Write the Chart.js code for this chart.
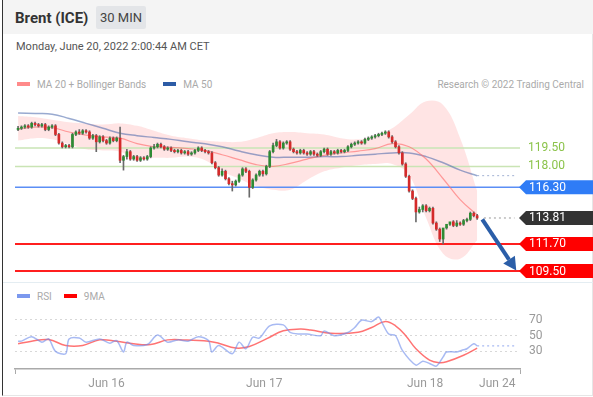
<!DOCTYPE html>
<html lang="en">
<head>
  <meta charset="UTF-8">
  <title>Brent (ICE) 30 MIN</title>
  <script src="https://cdn.jsdelivr.net/npm/chart.js"></script>
  <style>
    body { margin: 0; width: 593px; height: 397px; overflow: hidden; background: #fff; font-family: Roboto, "Liberation Sans", sans-serif; }
    #card { position: absolute; left: 2px; top: 0; width: 589px; height: 395px; border-left: 1px solid #333; border-right: 1px solid #e6e6e6; border-bottom: 1px solid #e6e6e6; }
    #topbar { position: absolute; left: 3px; top: 0; width: 590px; height: 34px; background: #f4f4f4; }
    .abs { position: absolute; white-space: nowrap; }
    .title { left: 15px; top: 9px; font-size: 15px; font-weight: bold; color: #333; }
    .tf { left: 96px; top: 6px; width: 50px; height: 23px; line-height: 23px; text-align: center; background: #e3e5e8; color: #444; font-size: 13px; border-radius: 2px; }
    .date { left: 16px; top: 40px; font-size: 11px; color: #555; }
    .leg { font-size: 10px; color: #aaa; line-height: 12px; }
    .sw { display: inline-block; width: 13px; height: 4px; vertical-align: middle; margin-right: 7px; position: relative; top: -1px; }
    #sep { position: absolute; left: 3px; top: 282px; width: 590px; height: 1px; background: #e4edf2; }
    canvas { position: absolute; left: 0; }
  </style>
</head>
<body>
  <div id="card"></div>
  <div id="topbar"></div>
  <div class="abs title">Brent (ICE)</div>
  <div class="abs tf">30 MIN</div>
  <div class="abs date">Monday, June 20, 2022 2:00:44 AM CET</div>
  <div class="abs leg" style="left:17px;top:79px"><span class="sw" style="background:#ff8a8a"></span>MA 20 + Bollinger Bands<span class="sw" style="background:#2d5ca6;margin-left:17px"></span>MA 50</div>
  <div class="abs leg" style="right:9px;top:79px">Research © 2022 Trading Central</div>
  <div id="sep"></div>
  <div class="abs leg" style="left:17px;top:291px"><span class="sw" style="background:#7b98ee"></span>RSI<span class="sw" style="background:#ff0000;margin-left:12px"></span>9MA</div>

  <canvas id="priceChart" width="593" height="190" style="top:95px"></canvas>
  <canvas id="rsiChart" width="593" height="107" style="top:290px"></canvas>

  <script>
    // 30 min candles, index 0 = first bar on the left
    const opens = [121.0,121.1,121.2,121.3,121.2,121.5,121.4,121.3,121.4,121.0,
      121.2,121.3,120.6,119.9,119.6,119.7,119.6,120.6,120.8,120.7,
      120.9,120.8,120.3,120.5,120.0,120.4,120.1,119.9,120.3,120.1,
      120.3,118.5,118.8,119.2,118.6,118.8,118.5,118.7,118.6,118.8,
      119.5,119.6,119.8,119.6,119.4,119.5,119.3,119.2,119.3,119.1,
      119.2,119.0,119.1,119.3,119.5,119.3,119.2,119.1,118.3,117.9,
      117.3,117.6,117.0,116.6,116.5,116.8,117.3,117.8,117.6,116.3,
      116.9,117.3,117.6,117.4,118.0,119.2,119.7,120.0,119.5,119.9,
      120.0,119.4,119.2,119.1,119.3,119.1,119.0,119.2,119.0,118.9,
      119.2,119.4,119.0,119.2,119.1,119.3,119.2,119.3,119.6,119.8,
      119.9,120.0,119.9,120.2,120.3,120.4,120.5,120.6,120.7,120.8,
      120.4,120.0,119.6,119.1,118.2,117.2,116.0,115.4,114.3,114.5,
      114.8,114.4,114.6,113.4,112.9,112.1,113.0,113.3,113.5,113.2,
      113.4,113.3,113.6,113.7,114.2,114.0];
    const closes = [121.1,121.2,121.3,121.2,121.5,121.4,121.3,121.4,121.0,121.2,
      121.3,120.6,119.9,119.6,119.7,119.6,120.6,120.8,120.7,120.9,
      120.8,120.3,120.5,120.0,120.4,120.1,119.9,120.3,120.1,120.3,
      118.5,118.8,119.2,118.6,118.8,118.5,118.7,118.6,118.8,119.5,
      119.6,119.8,119.6,119.4,119.5,119.3,119.2,119.3,119.1,119.2,
      119.0,119.1,119.3,119.5,119.3,119.2,119.1,118.3,117.9,117.3,
      117.6,117.0,116.6,116.5,116.8,117.3,117.8,117.6,116.3,116.9,
      117.3,117.6,117.4,118.0,119.2,119.7,120.0,119.5,119.9,120.0,
      119.4,119.2,119.1,119.3,119.1,119.0,119.2,119.0,118.9,119.2,
      119.4,119.0,119.2,119.1,119.3,119.2,119.3,119.6,119.8,119.9,
      120.0,119.9,120.2,120.3,120.4,120.5,120.6,120.7,120.8,120.4,
      120.0,119.6,119.1,118.2,117.2,116.0,115.4,114.3,114.5,114.8,
      114.4,114.6,113.4,112.9,112.1,113.0,113.3,113.5,113.2,113.4,
      113.3,113.6,113.7,114.2,114.0,113.81];
    const highs = [121.25,121.3,121.4,121.4,121.6,121.6,121.5,121.5,121.5,121.3,
      121.4,121.4,120.7,120.0,119.8,119.8,120.7,120.9,121.0,121.0,
      121.0,120.9,120.6,120.6,120.5,120.5,120.2,120.4,120.4,120.4,
      121.2,118.9,119.4,119.3,118.9,118.9,118.8,118.8,118.9,119.6,
      119.8,119.9,119.9,119.7,119.6,119.6,119.4,119.4,119.4,119.3,
      119.3,119.2,119.4,119.6,119.6,119.4,119.3,119.2,118.4,118.0,
      117.8,117.7,117.1,116.8,116.9,117.4,117.9,117.9,117.7,117.0,
      117.4,117.7,117.7,118.1,119.3,119.9,120.2,120.1,120.0,120.1,
      120.1,119.5,119.3,119.4,119.4,119.2,119.3,119.3,119.1,119.3,
      119.5,119.5,119.3,119.3,119.4,119.4,119.4,119.7,119.9,120.0,
      120.1,120.1,120.3,120.4,120.5,120.6,120.7,120.8,120.9,120.9,
      120.5,120.1,119.7,119.2,118.3,117.3,116.1,115.5,114.7,114.9,
      114.9,114.7,114.7,113.5,113.0,112.3,113.1,113.4,113.6,113.6,
      113.5,113.7,113.8,114.3,114.3,114.1];
    const lows = [120.9,121.0,121.1,121.1,121.1,121.3,121.2,121.2,120.9,120.9,
      121.1,120.5,119.8,119.5,119.5,119.5,119.5,120.5,120.6,120.6,
      120.7,120.2,120.2,119.2,119.9,120.0,119.8,119.8,120.0,120.0,
      118.3,117.7,118.6,118.5,118.5,118.4,118.4,118.5,118.5,118.7,
      119.4,119.5,119.5,119.3,119.3,119.2,119.1,119.1,119.0,119.0,
      118.9,118.9,119.0,119.2,119.2,119.1,119.0,118.2,117.8,117.2,
      117.2,116.9,116.5,116.0,116.4,116.7,117.2,117.5,115.5,116.2,
      116.8,117.2,117.2,117.3,117.9,119.1,119.6,119.4,119.4,119.8,
      119.3,119.1,119.0,119.0,119.0,118.9,118.9,118.9,118.8,118.8,
      119.1,118.9,118.9,119.0,119.0,119.1,119.1,119.2,119.5,119.7,
      119.8,119.8,119.8,120.1,120.2,120.3,120.4,120.5,120.6,120.3,
      119.9,119.5,119.0,118.1,117.1,115.9,115.3,113.5,114.2,114.3,
      114.3,114.3,113.3,112.8,111.9,111.7,112.9,113.2,113.1,113.1,
      113.2,113.2,113.5,113.6,113.9,113.7];

    // indicators read every 5 bars
    const indIdx = [0,5,10,15,20,25,30,35,40,45,50,55,60,65,70,75,80,85,90,95,100,105,110,115,120,125,130,135];
    const ma20 = [121.05,121.2,121.15,120.8,120.55,120.4,120.3,119.85,119.6,119.55,119.45,119.3,118.95,118.55,118.15,118.0,118.25,118.6,118.9,119.1,119.25,119.45,119.85,119.6,118.6,117.0,115.3,114.05];
    const ma50 = [122.35,122.3,122.25,121.9,121.5,121.1,120.7,120.5,120.35,120.2,120.0,119.85,119.6,119.25,118.95,118.75,118.75,118.75,118.8,118.8,118.9,119.0,119.1,119.1,118.8,118.3,117.7,117.25];
    const bbUpper = [122.1,122.0,121.8,121.6,121.5,121.4,121.5,121.3,120.9,120.5,120.3,120.1,120.0,120.0,120.3,120.7,120.8,120.7,120.6,120.3,120.2,120.5,121.1,122.2,123.3,123.0,120.3,116.0];
    const bbLower = [120.1,120.3,120.2,119.8,119.4,119.3,119.2,118.6,118.7,118.7,118.8,118.5,117.6,117.0,116.4,116.1,116.1,116.9,117.6,117.9,118.1,118.2,118.2,117.3,113.8,110.9,110.5,112.0];

    // key levels
    const levelValues = [119.50, 118.00, 116.30, 111.70, 109.50];
    const levelKinds = ['resist', 'resist', 'pivot', 'support', 'support'];
    const lastPrice = 113.81;
    const forecastIdx = [136.5, 146.5];
    const forecastVal = [113.7, 109.55];
    const projectionEnd = 146;

    // RSI pane
    const rsiIdx = [0,1,4,7,9,11,14,15,18,20,24,27,29,31,32,34,38,41,44,47,50,53,56,57,59,63,65,67,69,71,74,78,80,83,85,89,90,93,97,99,101,104,106,107,109,111,113,117,119,121,123,125,126,129,131,132,134,135];
    const rsiVal = [43,43,48.7,41.7,45.8,30,27,45.8,47,41.7,45.8,40.4,43.7,29.2,41.7,37.5,38.7,50.8,41.7,44.6,42.9,48.7,43.7,29.2,37.5,27,41.7,33.3,47.9,47,62.5,63.7,54.2,52,52,50,56,50,54,60.4,69.6,67.9,73.7,66.7,52,50,31.2,12.5,17.5,14.6,11.2,22.9,29.2,29.2,32,33.3,39.6,37];
    const maIdx = [0,4,9,14,19,24,29,34,39,44,49,56,59,64,68,73,78,83,86,92,100,104,108,111,114,117,121,124,126,131,135];
    const rsiMaVal = [39.6,42.9,45,37.5,37.5,44.6,42.9,39.6,38.7,44.6,44.6,42.9,40.4,34.2,36.2,45.8,56.2,58.3,57.1,52.9,54.2,60.4,67.9,62.5,50,33.3,18.8,15.4,16.7,25,34.2];
    const rsiTicks = [30, 50, 70];

    const timeTicks = [26, 72.4, 119.7, 140.9];
    const timeLabels = ['Jun 16', 'Jun 17', 'Jun 18', 'Jun 24'];
    const xMin = -0.9, xMax = 147.6;

    const pts = (xs, ys) => xs.map((x, i) => ({ x: x, y: ys[i] }));
    const idx = closes.map((c, i) => i);
    const upColor = '#2e8b34', downColor = '#d42a2a';

    const levelStyle = {
      resist: { line: '#c9e4b4', width: 1.5, text: '#8bc34a' },
      pivot: { line: '#5b8ef5', width: 1.5, box: '#2f7cf6' },
      support: { line: '#ff1f1f', width: 2, box: '#ff0000' }
    };

    const levelSets = levelValues.map((v, i) => ({
      type: 'line',
      data: [{ x: xMin, y: v }, { x: xMax, y: v }],
      borderColor: levelStyle[levelKinds[i]].line,
      borderWidth: levelStyle[levelKinds[i]].width,
      pointRadius: 0,
      order: 6
    }));

    const labelsPlugin = {
      id: 'labels',
      afterDatasetsDraw(chart) {
        const ctx = chart.ctx, xs = chart.scales.x, ys = chart.scales.y;
        const tip = xs.right - 1, boxL = tip + 7, boxR = chart.width;
        ctx.save();
        ctx.font = '12px Roboto, sans-serif';
        ctx.textBaseline = 'middle';
        const box = (y, color, text) => {
          ctx.fillStyle = color;
          ctx.beginPath();
          ctx.moveTo(tip, y);
          ctx.lineTo(boxL, y - 7);
          ctx.lineTo(boxR, y - 7);
          ctx.lineTo(boxR, y + 7);
          ctx.lineTo(boxL, y + 7);
          ctx.closePath();
          ctx.fill();
          ctx.fillStyle = '#fff';
          ctx.fillText(text, boxL + 3, y + 0.5);
        };
        levelValues.forEach((v, i) => {
          const st = levelStyle[levelKinds[i]];
          const y = ys.getPixelForValue(v);
          if (st.box) box(y, st.box, v.toFixed(2));
          else { ctx.fillStyle = st.text; ctx.fillText(v.toFixed(2), boxL + 2, y); }
        });
        // last price
        const yl = ys.getPixelForValue(lastPrice);
        ctx.strokeStyle = '#999';
        ctx.lineWidth = 1;
        ctx.setLineDash([2, 3]);
        ctx.beginPath();
        ctx.moveTo(xs.getPixelForValue(closes.length + 1), yl);
        ctx.lineTo(xs.getPixelForValue(projectionEnd), yl);
        ctx.stroke();
        ctx.setLineDash([]);
        box(yl, '#333', lastPrice.toFixed(2));
        // forecast arrow
        const x0 = xs.getPixelForValue(forecastIdx[0]), y0 = ys.getPixelForValue(forecastVal[0]);
        const x1 = xs.getPixelForValue(forecastIdx[1]), y1 = ys.getPixelForValue(forecastVal[1]);
        const a = Math.atan2(y1 - y0, x1 - x0), hl = 13, hw = 7;
        const bx = x1 - hl * Math.cos(a), by = y1 - hl * Math.sin(a);
        ctx.strokeStyle = '#2b5ea8';
        ctx.fillStyle = '#2b5ea8';
        ctx.lineWidth = 4;
        ctx.beginPath();
        ctx.moveTo(x0, y0);
        ctx.lineTo(bx, by);
        ctx.stroke();
        ctx.beginPath();
        ctx.moveTo(x1, y1);
        ctx.lineTo(bx + hw * Math.sin(a), by - hw * Math.cos(a));
        ctx.lineTo(bx - hw * Math.sin(a), by + hw * Math.cos(a));
        ctx.closePath();
        ctx.fill();
        ctx.restore();
      }
    };

    new Chart(document.getElementById('priceChart'), {
      type: 'bar',
      data: {
        datasets: [
          {
            type: 'line', data: pts(indIdx, bbLower), borderWidth: 0, borderColor: 'transparent',
            pointRadius: 0, tension: 0.4, fill: false, order: 10
          },
          {
            type: 'line', data: pts(indIdx, bbUpper), borderWidth: 0, borderColor: 'transparent',
            backgroundColor: 'rgba(255,120,120,0.2)', pointRadius: 0, tension: 0.4, fill: '-1', order: 9
          },
          ...levelSets,
          {
            type: 'line', data: pts(indIdx, ma20), borderColor: 'rgba(255,110,110,0.65)', borderWidth: 1.2,
            pointRadius: 0, tension: 0.4, order: 5
          },
          {
            type: 'line', data: pts(indIdx, ma50), borderColor: 'rgba(70,100,170,0.55)', borderWidth: 1.5,
            pointRadius: 0, tension: 0.4, order: 5
          },
          {
            type: 'line', data: [{ x: indIdx[indIdx.length - 1], y: ma50[ma50.length - 1] }, { x: projectionEnd, y: ma50[ma50.length - 1] }],
            borderColor: 'rgba(70,100,170,0.5)', borderWidth: 1, borderDash: [2, 3], pointRadius: 0, order: 5
          },
          {
            data: idx.map(i => ({ x: i, y: [lows[i], highs[i]] })),
            backgroundColor: '#6a6a6a', barThickness: 1, grouped: false, order: 2
          },
          {
            data: idx.map(i => ({ x: i, y: [opens[i], closes[i]] })),
            backgroundColor: idx.map(i => closes[i] >= opens[i] ? upColor : downColor),
            barThickness: 2, grouped: false, order: 1
          }
        ]
      },
      options: {
        responsive: false,
        animation: false,
        layout: { padding: { left: 15, right: 73, top: 5, bottom: 5 } },
        plugins: { legend: { display: false }, tooltip: { enabled: false } },
        scales: {
          x: { type: 'linear', min: xMin, max: xMax, offset: false, display: false },
          y: { min: 108.77, max: 123.4, display: false }
        }
      },
      plugins: [labelsPlugin]
    });

    const edgeTick = v => v === xMin || v === xMax;

    new Chart(document.getElementById('rsiChart'), {
      type: 'line',
      data: {
        datasets: [
          { data: pts(rsiIdx, rsiVal), borderColor: 'rgba(110,140,235,0.6)', borderWidth: 1.5, pointRadius: 0, tension: 0.3 },
          {
            data: [{ x: rsiIdx[rsiIdx.length - 1], y: rsiVal[rsiVal.length - 1] }, { x: projectionEnd, y: rsiVal[rsiVal.length - 1] }],
            borderColor: 'rgba(110,140,235,0.6)', borderWidth: 1.2, borderDash: [2, 3], pointRadius: 0
          },
          { data: pts(maIdx, rsiMaVal), borderColor: 'rgba(255,80,80,0.8)', borderWidth: 1.5, pointRadius: 0, tension: 0.4 }
        ]
      },
      options: {
        responsive: false,
        animation: false,
        layout: { padding: { left: 15, right: 0, top: 15, bottom: 0 } },
        plugins: { legend: { display: false }, tooltip: { enabled: false } },
        scales: {
          x: {
            type: 'linear', min: xMin, max: xMax, offset: false,
            afterBuildTicks: s => { s.ticks = [xMin, ...timeTicks, xMax].map(v => ({ value: v })); },
            afterFit: s => { s.height = 28; },
            ticks: {
              autoSkip: false, maxRotation: 0, padding: 3, color: '#999', font: { size: 12, family: 'Roboto' },
              callback: v => { const k = timeTicks.indexOf(v); return k >= 0 ? timeLabels[k] : ''; }
            },
            grid: { drawOnChartArea: false, tickLength: 5, color: c => (c.tick && edgeTick(c.tick.value)) ? '#aaa' : 'transparent' },
            border: { display: true, color: '#aaa', width: 1.5 }
          },
          y: {
            position: 'right', min: 7.5, max: 87.5,
            afterBuildTicks: s => { s.ticks = rsiTicks.map(v => ({ value: v })); },
            afterFit: s => { s.width = 73; },
            ticks: { padding: 9, color: '#999', font: { size: 12, family: 'Roboto' } },
            grid: { color: '#d8d8d8', drawTicks: false },
            border: { display: false, dash: [2, 3] }
          }
        }
      }
    });
  </script>
</body>
</html>
